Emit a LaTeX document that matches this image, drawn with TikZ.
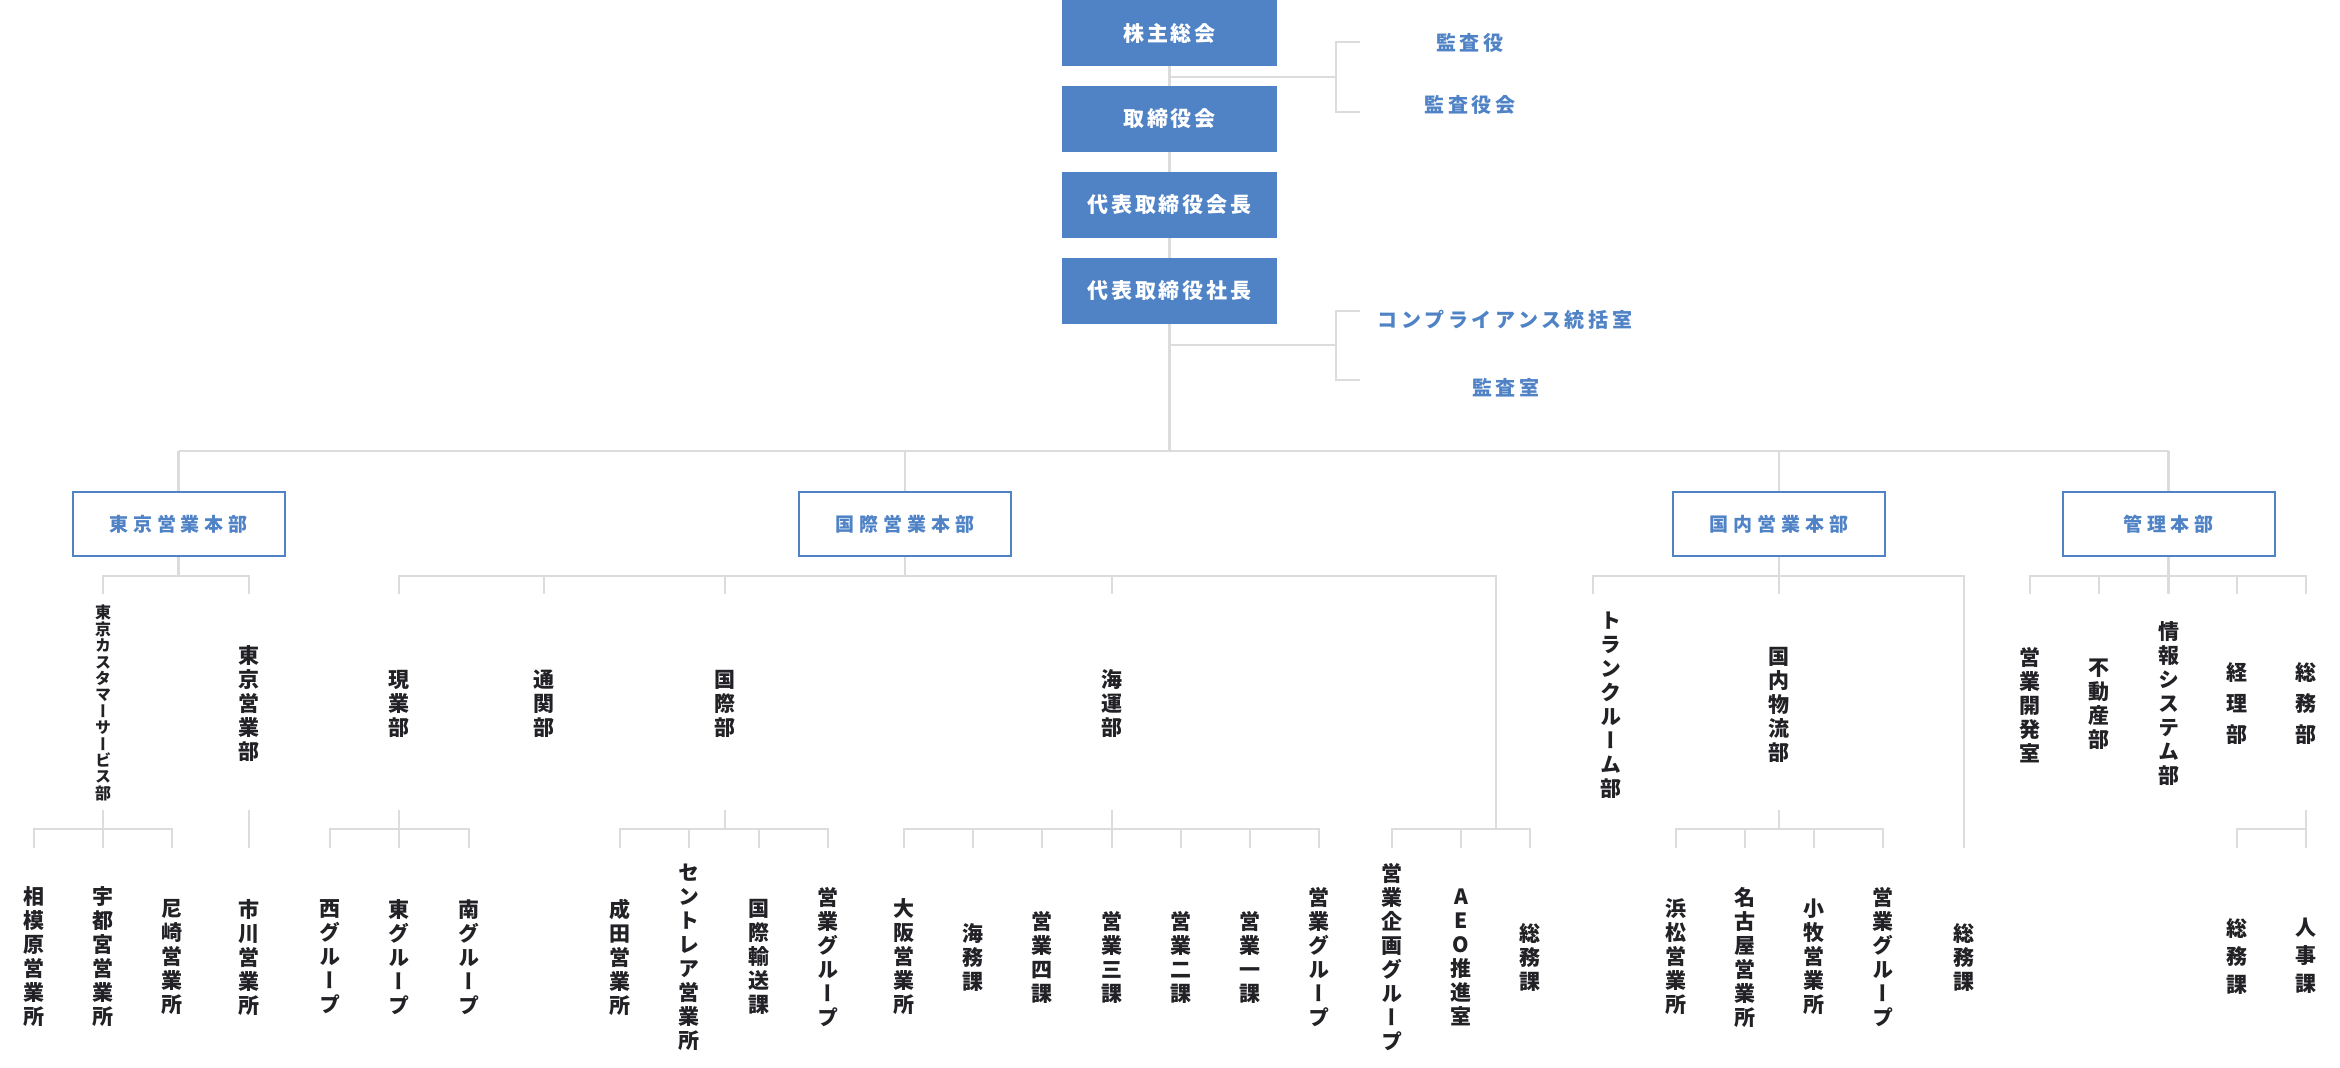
\documentclass[tikz,border=0pt]{standalone}
\usepackage{fontspec}
\newfontfamily\jpv{Noto Sans CJK JP}[RawFeature=+vert]
\newfontfamily\jpa{Noto Sans CJK JP}[LetterSpace=14]
\newfontfamily\jpb{Noto Sans CJK JP}[LetterSpace=26]
\newfontfamily\jpc{Noto Sans CJK JP}[LetterSpace=18]
\definecolor{blu}{RGB}{80,131,198}
\definecolor{ln}{RGB}{220,220,220}
\definecolor{ink}{RGB}{34,34,38}
\pgfdeclarelayer{bg}
\pgfdeclarelayer{lines}
\pgfsetlayers{bg,lines,main}
\tikzset{
  topbox/.style={fill=blu, draw=none, minimum width=215pt, minimum height=66pt, inner sep=0pt, text=white, font=\jpa\bfseries\fontsize{21}{24}\selectfont},
  hqbox/.style={draw=blu, line width=2pt, fill=white, minimum width=212pt, minimum height=64pt, inner sep=0pt, text=blu, font=\jpb\bfseries\fontsize{19}{22}\selectfont},
  side/.style={text=blu, inner sep=0pt, font=\jpc\bfseries\fontsize{20}{23}\selectfont},
  vt/.style={align=center, inner sep=0pt, text=ink, font=\jpv\bfseries\fontsize{21}{24}\selectfont},
  vtw/.style={vt, font=\jpv\bfseries\fontsize{21}{31}\selectfont},
  vtm/.style={vt, font=\jpv\bfseries\fontsize{21}{28}\selectfont},
  vts/.style={vt, font=\jpv\bfseries\fontsize{16}{16.4}\selectfont},
  conn/.style={draw=ln, line width=2.4pt, line join=miter},
}
\begin{document}
\begin{tikzpicture}[x=1pt,y=-1pt]
\useasboundingbox (0,0) rectangle (2340,1068);
\begin{pgfonlayer}{bg}
\fill[white] (0,0) rectangle (2340,1068);
\end{pgfonlayer}

% level coordinates
\coordinate (busA) at (0,451);
\coordinate (L2bus) at (0,576);
\coordinate (L3stub) at (0,594);
\coordinate (L3up) at (0,810);
\coordinate (L4bus) at (0,829);
\coordinate (L4stub) at (0,848);
\coordinate (br1) at (1336,77);
\coordinate (br1t) at (1360,42);
\coordinate (br1b) at (1360,112);
\coordinate (br2) at (1336,345);
\coordinate (br2t) at (1360,311);
\coordinate (br2b) at (1360,380);
\coordinate (rv) at (1496,576);
\coordinate (ts) at (1593,594);

% top chain
\node[topbox] (kabu) at (1169.5,33) {株主総会};
\node[topbox] (tori) at (1169.5,119) {取締役会};
\node[topbox] (kaicho) at (1169.5,205) {代表取締役会長};
\node[topbox] (shacho) at (1169.5,291) {代表取締役社長};

\node[side] (kansayaku) at (1470,43) {監査役};
\node[side] (kansakai) at (1470,105) {監査役会};
\node[side] (comp) at (1505,320) {コンプライアンス統括室};
\node[side] (kansashitsu) at (1506,388) {監査室};

% headquarters
\node[hqbox] (tokyo) at (178.5,524) {東京営業本部};
\node[hqbox] (kokusai) at (905,524) {国際営業本部};
\node[hqbox] (kokunai) at (1779,524) {国内営業本部};
\node[hqbox] (kanri) at (2168.5,524) {管理本部};

% level 3
\node[vts] (cust) at (103,703) {東\\京\\カ\\ス\\タ\\マ\\ー\\サ\\ー\\ビ\\ス\\部};
\node[vt] (tokyoeig) at (249,704) {東\\京\\営\\業\\部};
\node[vt] (genba) at (399,704) {現\\業\\部};
\node[vt] (tsukan) at (544,704) {通\\関\\部};
\node[vt] (kokusaibu) at (725,704) {国\\際\\部};
\node[vt] (kaiun) at (1112,704) {海\\運\\部};
\node[vt] (trunk) at (1611,705) {ト\\ラ\\ン\\ク\\ル\\ー\\ム\\部};
\node[vt] (butsuryu) at (1779,705) {国\\内\\物\\流\\部};
\node[vt] (kaihatsu) at (2030,705) {営\\業\\開\\発\\室};
\node[vt] (fudosan) at (2099,704) {不\\動\\産\\部};
\node[vt] (joho) at (2168.5,704) {情\\報\\シ\\ス\\テ\\ム\\部};
\node[vtw] (keiri) at (2237,704) {経\\理\\部};
\node[vtw] (somubu) at (2306,704) {総\\務\\部};

% level 4
\node[vt] (sagami) at (34,957) {相\\模\\原\\営\\業\\所};
\node[vt] (utsu) at (103,957) {宇\\都\\宮\\営\\業\\所};
\node[vt] (ama) at (172,957) {尼\\崎\\営\\業\\所};
\node[vt] (ichi) at (249,957) {市\\川\\営\\業\\所};
\node[vt] (nishi) at (330,957) {西\\グ\\ル\\ー\\プ};
\node[vt] (higashi) at (399,957) {東\\グ\\ル\\ー\\プ};
\node[vt] (minami) at (469,957) {南\\グ\\ル\\ー\\プ};
\node[vt] (narita) at (620,957) {成\\田\\営\\業\\所};
\node[vt] (centrair) at (689,957) {セ\\ン\\ト\\レ\\ア\\営\\業\\所};
\node[vt] (yuso) at (759,957) {国\\際\\輸\\送\\課};
\node[vt] (kgrp) at (828,957) {営\\業\\グ\\ル\\ー\\プ};
\node[vt] (osaka) at (904,957) {大\\阪\\営\\業\\所};
\node[vt] (kaimu) at (973,957) {海\\務\\課};
\node[vt] (yon) at (1042,957) {営\\業\\四\\課};
\node[vt] (san) at (1112,957) {営\\業\\三\\課};
\node[vt] (ni) at (1181,957) {営\\業\\二\\課};
\node[vt] (ichika) at (1250,957) {営\\業\\一\\課};
\node[vt] (kgrp2) at (1319,957) {営\\業\\グ\\ル\\ー\\プ};
\node[vt] (kikaku) at (1392,957) {営\\業\\企\\画\\グ\\ル\\ー\\プ};
\node[vt] (aeo) at (1461,957) {A\\E\\O\\推\\進\\室};
\node[vt] (somuka1) at (1530,957) {総\\務\\課};
\node[vt] (hama) at (1676,957) {浜\\松\\営\\業\\所};
\node[vt] (nagoya) at (1745,957) {名\\古\\屋\\営\\業\\所};
\node[vt] (komaki) at (1814,957) {小\\牧\\営\\業\\所};
\node[vt] (kgrp3) at (1883,957) {営\\業\\グ\\ル\\ー\\プ};
\node[vt] (somuka2) at (1964,957) {総\\務\\課};
\node[vtm] (somuka3) at (2237,956) {総\\務\\課};
\node[vtm] (jinji) at (2306,956) {人\\事\\課};

\begin{pgfonlayer}{lines}
% top chain
\draw[conn] (kabu.south) -- (tori.north);
\draw[conn] (tori.south) -- (kaicho.north);
\draw[conn] (kaicho.south) -- (shacho.north);
\draw[conn] (shacho.south) -- (shacho |- busA);
\draw[conn] (kabu |- br1) -- (br1);
\draw[conn] (br1t) -| (br1) |- (br1b);
\draw[conn] (shacho |- br2) -- (br2);
\draw[conn] (br2t) -| (br2) |- (br2b);
\draw[conn] (tokyo |- busA) -- (kanri |- busA);
\foreach \n in {tokyo,kokusai,kokunai,kanri} {
  \draw[conn] (\n.north) -- (\n |- busA);
  \draw[conn] (\n.south) -- (\n |- L2bus);
}
% Tokyo
\draw[conn] (cust|-L3stub) -- (cust|-L2bus) -- (tokyoeig|-L2bus) -- (tokyoeig|-L3stub);
\draw[conn] (cust|-L3up) -- (cust|-L4bus);
\draw[conn] (sagami|-L4stub) -- (sagami|-L4bus) -- (ama|-L4bus) -- (ama|-L4stub);
\draw[conn] (utsu|-L4bus) -- (utsu|-L4stub);
\draw[conn] (tokyoeig|-L3up) -- (ichi|-L4stub);
% Kokusai
\draw[conn] (genba|-L3stub) -- (genba|-L2bus) -- (rv) -- (rv|-L4bus);
\foreach \n in {tsukan,kokusaibu,kaiun} \draw[conn] (\n|-L2bus) -- (\n|-L3stub);
\draw[conn] (genba|-L3up) -- (genba|-L4bus);
\draw[conn] (nishi|-L4stub) -- (nishi|-L4bus) -- (minami|-L4bus) -- (minami|-L4stub);
\draw[conn] (higashi|-L4bus) -- (higashi|-L4stub);
\draw[conn] (kokusaibu|-L3up) -- (kokusaibu|-L4bus);
\draw[conn] (narita|-L4stub) -- (narita|-L4bus) -- (kgrp|-L4bus) -- (kgrp|-L4stub);
\foreach \n in {centrair,yuso} \draw[conn] (\n|-L4bus) -- (\n|-L4stub);
\draw[conn] (kaiun|-L3up) -- (kaiun|-L4bus);
\draw[conn] (osaka|-L4stub) -- (osaka|-L4bus) -- (kgrp2|-L4bus) -- (kgrp2|-L4stub);
\foreach \n in {kaimu,yon,san,ni,ichika} \draw[conn] (\n|-L4bus) -- (\n|-L4stub);
\draw[conn] (kikaku|-L4stub) -- (kikaku|-L4bus) -- (somuka1|-L4bus) -- (somuka1|-L4stub);
\draw[conn] (aeo|-L4bus) -- (aeo|-L4stub);
% Kokunai
\draw[conn] (ts) -- (ts|-L2bus) -- (somuka2|-L2bus) -- (somuka2|-L4stub);
\draw[conn] (butsuryu|-L2bus) -- (butsuryu|-L3stub);
\draw[conn] (butsuryu|-L3up) -- (butsuryu|-L4bus);
\draw[conn] (hama|-L4stub) -- (hama|-L4bus) -- (kgrp3|-L4bus) -- (kgrp3|-L4stub);
\foreach \n in {nagoya,komaki} \draw[conn] (\n|-L4bus) -- (\n|-L4stub);
% Kanri
\draw[conn] (kaihatsu|-L3stub) -- (kaihatsu|-L2bus) -- (somubu|-L2bus) -- (somubu|-L3stub);
\foreach \n in {fudosan,joho,keiri} \draw[conn] (\n|-L2bus) -- (\n|-L3stub);
\draw[conn] (somubu|-L3up) -- (somubu|-L4stub);
\draw[conn] (somuka3|-L4stub) -- (somuka3|-L4bus) -- (somubu|-L4bus);
\end{pgfonlayer}
\end{tikzpicture}
\end{document}
